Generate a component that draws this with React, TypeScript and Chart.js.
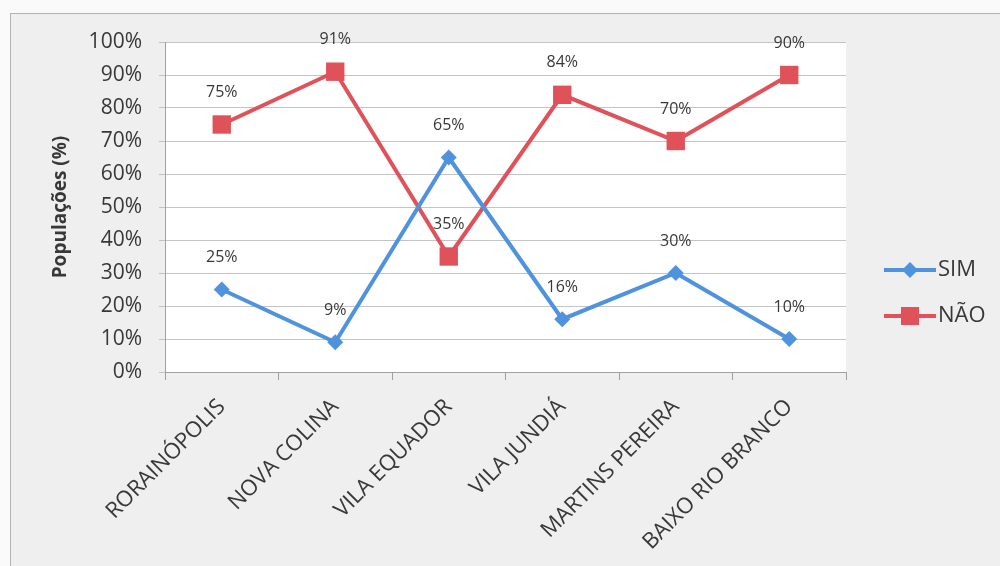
import React, { useEffect, useRef } from "react";
import { Chart, registerables } from "chart.js";

Chart.register(...registerables);

const categories = ["RORAINÓPOLIS", "NOVA COLINA", "VILA EQUADOR", "VILA JUNDIÁ", "MARTINS PEREIRA", "BAIXO RIO BRANCO"];
const simValues = [25, 9, 65, 16, 30, 10];
const naoValues = [75, 91, 35, 84, 70, 90];
const seriesNames = ["SIM", "NÃO"];
const yTitle = "Populações (%)";

const BLUE = "#4f92de";
const RED = "#e0525a";
const TEXT = "#383838";
const FONT = "'Open Sans', 'Liberation Sans', sans-serif";

const plotBg = {
  id: "plotBg",
  beforeDraw(chart: any) {
    const { ctx, chartArea } = chart;
    ctx.save();
    ctx.fillStyle = "#ffffff";
    ctx.fillRect(chartArea.left, chartArea.top, chartArea.right - chartArea.left, chartArea.bottom - chartArea.top);
    ctx.restore();
  },
};

const dataLabels = {
  id: "dataLabels",
  afterDatasetsDraw(chart: any) {
    const { ctx } = chart;
    ctx.save();
    ctx.font = `16px ${FONT}`;
    ctx.fillStyle = TEXT;
    ctx.textAlign = "center";
    ctx.textBaseline = "middle";
    chart.data.datasets.forEach((ds: any, i: number) => {
      const meta = chart.getDatasetMeta(i);
      meta.data.forEach((pt: any, j: number) => {
        ctx.fillText(ds.data[j] + "%", pt.x, pt.y - 32);
      });
    });
    ctx.restore();
  },
};

const customLegend = {
  id: "customLegend",
  afterDraw(chart: any) {
    const { ctx } = chart;
    const ys = [270, 316];
    chart.data.datasets.forEach((ds: any, i: number) => {
      const y = ys[i];
      ctx.save();
      ctx.strokeStyle = ds.borderColor;
      ctx.lineWidth = 4;
      ctx.beginPath();
      ctx.moveTo(884, y);
      ctx.lineTo(936, y);
      ctx.stroke();
      ctx.fillStyle = ds.borderColor;
      if (i === 0) {
        ctx.beginPath();
        ctx.moveTo(910, y - 8);
        ctx.lineTo(918, y);
        ctx.lineTo(910, y + 8);
        ctx.lineTo(902, y);
        ctx.closePath();
        ctx.fill();
      } else {
        ctx.fillRect(901, y - 9, 18, 18);
      }
      ctx.font = `22px ${FONT}`;
      ctx.fillStyle = TEXT;
      ctx.textAlign = "left";
      ctx.textBaseline = "middle";
      ctx.fillText(ds.label, 938, y);
      ctx.restore();
    });
  },
};

export default function App() {
  const ref = useRef<HTMLCanvasElement>(null);
  useEffect(() => {
    if (!ref.current) return;
    const chart = new Chart(ref.current, {
      type: "line",
      data: {
        labels: categories,
        datasets: [
          {
            label: seriesNames[0],
            data: simValues,
            borderColor: BLUE,
            backgroundColor: BLUE,
            borderWidth: 4,
            pointStyle: "rectRot",
            pointRadius: 8,
            pointBorderWidth: 0,
            tension: 0,
          },
          {
            label: seriesNames[1],
            data: naoValues,
            borderColor: RED,
            backgroundColor: RED,
            borderWidth: 4,
            pointStyle: "rect",
            pointRadius: 13,
            pointBorderWidth: 0,
            tension: 0,
          },
        ],
      },
      options: {
        responsive: false,
        animation: false,
        layout: { padding: { left: 0, right: 154, top: 42, bottom: 0 } },
        plugins: { legend: { display: false }, tooltip: { enabled: false } },
        scales: {
          x: {
            offset: true,
            grid: { offset: true, drawOnChartArea: false, drawTicks: true, tickLength: 8, color: "#a0a0a0" },
            border: { color: "#a0a0a0", width: 1 },
            ticks: {
              color: TEXT,
              font: { size: 22, family: FONT },
              maxRotation: 45,
              minRotation: 45,
              padding: 14,
            },
            afterFit(scale: any) {
              scale.height = 194;
            },
          },
          y: {
            min: 0,
            max: 100,
            grid: { color: "#c4c4c4", tickLength: 6 },
            border: { color: "#a0a0a0", width: 1 },
            ticks: {
              stepSize: 10,
              color: TEXT,
              font: { size: 21, family: FONT },
              padding: 17,
              callback: (v: any) => v + "%",
            },
            title: {
              display: true,
              text: yTitle,
              color: TEXT,
              font: { size: 19, weight: "bold", family: FONT },
              padding: { top: 49, bottom: 0 },
            },
            afterFit(scale: any) {
              scale.width = 165;
            },
          },
        },
      },
      plugins: [plotBg, dataLabels, customLegend],
    });
    return () => chart.destroy();
  }, []);

  return (
    <div style={{ position: "absolute", left: 0, top: 0, width: 1000, height: 566, background: "#fafafa", overflow: "hidden" }}>
      <div
        style={{
          position: "absolute",
          left: 10,
          top: 13,
          width: 1000,
          height: 600,
          background: "#efefef",
          border: "1px solid #b4b4b4",
        }}
      />
      <canvas ref={ref} width={1000} height={566} style={{ position: "absolute", left: 0, top: 0 }} />
    </div>
  );
}
